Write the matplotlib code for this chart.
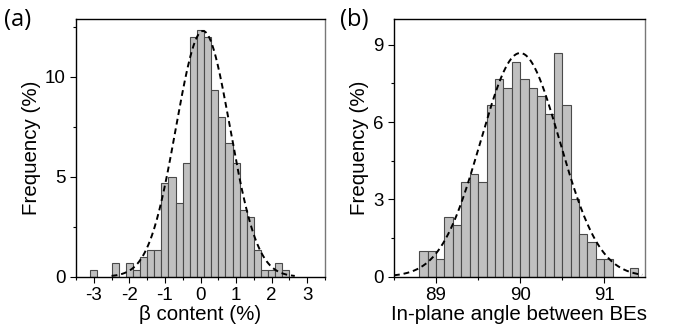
import matplotlib
matplotlib.use('agg')
import matplotlib.pyplot as plt
import numpy as np
from matplotlib.ticker import MultipleLocator

plt.rcParams['font.family'] = ['Liberation Sans', 'DejaVu Sans']

# panel (a): beta content histogram, bin width 0.2
beta_centers = [-3.0, -2.4, -2.0, -1.8, -1.6, -1.4, -1.2, -1.0, -0.8, -0.6, -0.4, -0.2,
                0.0, 0.2, 0.4, 0.6, 0.8, 1.0, 1.2, 1.4, 1.6, 1.8, 2.0, 2.2, 2.4]
beta_freq = [0.33, 0.67, 0.67, 0.33, 1.0, 1.33, 1.33, 4.67, 5.0, 3.67, 5.67, 12.0,
             12.33, 12.0, 9.33, 8.0, 6.67, 5.67, 3.33, 3.0, 1.33, 0.33, 0.33, 0.67, 0.33]
beta_fit = dict(amp=12.3, mu=0.07, sigma=0.76, lo=-2.5, hi=2.65)

# panel (b): in-plane angle histogram, bin width 0.1
ang_centers = [88.85, 88.95, 89.05, 89.15, 89.25, 89.35, 89.45, 89.55, 89.65, 89.75,
               89.85, 89.95, 90.05, 90.15, 90.25, 90.35, 90.45, 90.55, 90.65, 90.75,
               90.85, 90.95, 91.05, 91.35]
ang_freq = [1.0, 1.0, 0.67, 2.33, 2.0, 3.67, 4.0, 3.67, 6.67, 7.67,
            7.33, 8.33, 7.67, 7.33, 7.0, 6.33, 8.67, 6.67, 3.0, 1.67,
            1.33, 0.67, 0.67, 0.33]
ang_fit = dict(amp=8.68, mu=90.0, sigma=0.47, lo=88.5, hi=91.45)


def gauss(p):
    x = np.linspace(p['lo'], p['hi'], 300)
    return x, p['amp'] * np.exp(-(x - p['mu']) ** 2 / (2 * p['sigma'] ** 2))


def style(ax):
    ax.tick_params(which='both', direction='out', labelsize=13.5, width=0.8)
    ax.tick_params(which='major', length=4)
    ax.tick_params(which='minor', length=2.5)
    ax.tick_params(top=False, right=False)
    for s in ax.spines.values():
        s.set_linewidth(1.0)
    ax.spines['right'].set_color('#777777')


fig = plt.figure(figsize=(6.76, 3.34), dpi=100)
ax1 = fig.add_axes([0.1124, 0.1716, 0.3684, 0.7715])
ax2 = fig.add_axes([0.5828, 0.1716, 0.3709, 0.7715])

ax1.bar(beta_centers, beta_freq, width=0.2, color='#c0c0c0', edgecolor='#4a4a4a', lw=0.8)
x, y = gauss(beta_fit)
ax1.plot(x, y, 'k--', lw=1.4, dashes=(3, 2))
ax1.set_xlim(-3.5, 3.5)
ax1.set_ylim(0, 12.9)
ax1.xaxis.set_major_locator(MultipleLocator(1))
ax1.xaxis.set_minor_locator(MultipleLocator(0.5))
ax1.yaxis.set_major_locator(MultipleLocator(5))
ax1.yaxis.set_minor_locator(MultipleLocator(2.5))
ax1.set_xticks([-3, -2, -1, 0, 1, 2, 3])
ax1.set_xticklabels(['-3', '-2', '-1', '0', '1', '2', '3'])
ax1.set_xlabel('β content (%)', fontsize=14.8, labelpad=1)
ax1.set_ylabel('Frequency (%)', fontsize=14.8, labelpad=3)
style(ax1)

ax2.bar(ang_centers, ang_freq, width=0.1, color='#c0c0c0', edgecolor='#4a4a4a', lw=0.8)
x, y = gauss(ang_fit)
ax2.plot(x, y, 'k--', lw=1.4, dashes=(3, 2))
ax2.set_xlim(88.5, 91.48)
ax2.set_ylim(0, 10)
ax2.xaxis.set_major_locator(MultipleLocator(1))
ax2.xaxis.set_minor_locator(MultipleLocator(0.5))
ax2.yaxis.set_major_locator(MultipleLocator(3))
ax2.yaxis.set_minor_locator(MultipleLocator(1.5))
ax2.set_xlabel('In-plane angle between BEs', fontsize=14.8, labelpad=1)
ax2.set_ylabel('Frequency (%)', fontsize=14.8, labelpad=3)
style(ax2)

fig.text(0.006, 0.94, '(a)', fontsize=17, family=['Open Sans', 'DejaVu Sans'], va='center')
fig.text(0.503, 0.94, '(b)', fontsize=17, family=['Open Sans', 'DejaVu Sans'], va='center')

plt.savefig('out.png', dpi=100)
